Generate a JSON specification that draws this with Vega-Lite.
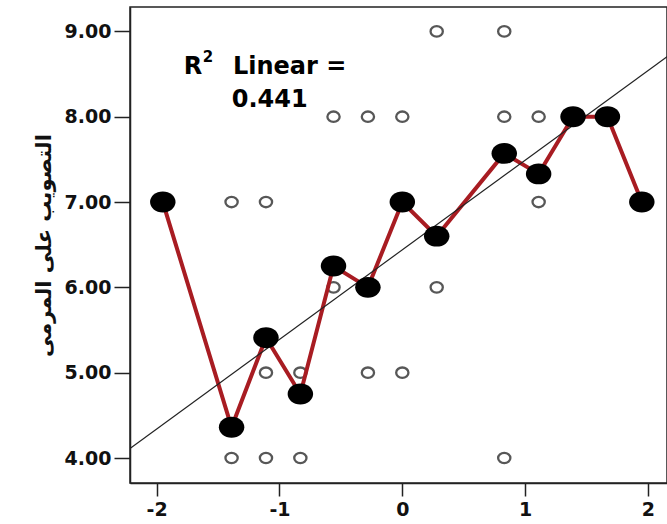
{
  "$schema": "https://vega.github.io/schema/vega-lite/v6.json",
  "width": 537,
  "height": 476,
  "autosize": {"type": "none"},
  "padding": {"left": 130, "top": 7, "right": 0, "bottom": 41},
  "background": "white",
  "config": {
    "view": {"stroke": "#222", "strokeWidth": 1.5},
    "axis": {
      "grid": false,
      "domainColor": "#222",
      "domainWidth": 1.5,
      "tickColor": "#222",
      "tickWidth": 1.5,
      "tickSize": 13,
      "labelFont": "DejaVu Sans",
      "labelFontWeight": "bold",
      "labelFontSize": 19,
      "labelColor": "#111",
      "titleFont": "DejaVu Sans",
      "titleFontWeight": "bold",
      "titleColor": "#111"
    }
  },
  "datasets": {
    "open": [
      {"x": -1.39, "y": 7}, {"x": -1.39, "y": 4},
      {"x": -1.11, "y": 7}, {"x": -1.11, "y": 5}, {"x": -1.11, "y": 4},
      {"x": -0.83, "y": 5}, {"x": -0.83, "y": 4},
      {"x": -0.56, "y": 8}, {"x": -0.56, "y": 6},
      {"x": -0.28, "y": 8}, {"x": -0.28, "y": 5},
      {"x": 0, "y": 8}, {"x": 0, "y": 5},
      {"x": 0.28, "y": 9}, {"x": 0.28, "y": 6},
      {"x": 0.83, "y": 9}, {"x": 0.83, "y": 8}, {"x": 0.83, "y": 4},
      {"x": 1.11, "y": 8}, {"x": 1.11, "y": 7}
    ],
    "means": [
      {"x": -1.95, "y": 7},
      {"x": -1.39, "y": 4.36},
      {"x": -1.11, "y": 5.41},
      {"x": -0.83, "y": 4.75},
      {"x": -0.56, "y": 6.25},
      {"x": -0.28, "y": 6.0},
      {"x": 0, "y": 7},
      {"x": 0.28, "y": 6.6},
      {"x": 0.83, "y": 7.57},
      {"x": 1.11, "y": 7.33},
      {"x": 1.39, "y": 8},
      {"x": 1.67, "y": 8},
      {"x": 1.95, "y": 7}
    ],
    "fit": [
      {"x": -2.4, "y": 3.92},
      {"x": 2.4, "y": 8.96}
    ],
    "notes": [
      {"label": "R", "x": -1.78, "y": 8.503},
      {"label": "Linear =", "x": -1.379, "y": 8.503}
    ],
    "sup": [
      {"label": "2", "x": -1.625, "y": 8.64}
    ],
    "r2": [
      {"label": "0.441", "x": -1.08, "y": 8.116}
    ]
  },
  "layer": [
    {
      "data": {"name": "open"},
      "mark": {"type": "point", "shape": "M-1,0A1,0.85,0,1,0,1,0A1,0.85,0,1,0,-1,0Z", "filled": false, "stroke": "#111", "strokeWidth": 2.3, "size": 150},
      "encoding": {
        "x": {"field": "x", "type": "quantitative", "scale": {"domain": [-2.217, 2.155], "nice": false, "zero": false},
          "axis": {"values": [-2, -1, 0, 1, 2], "title": null, "labelExpr": "datum.value + ''", "labelPadding": 4, "tickSize": 13}},
        "y": {"field": "y", "type": "quantitative", "scale": {"domain": [3.707, 9.286], "nice": false, "zero": false},
          "axis": {"values": [4, 5, 6, 7, 8, 9], "format": ".2f", "title": "التصويب على المرمى", "titleFontSize": 21, "titlePadding": 10, "labelPadding": 3, "tickSize": 16}}
      }
    },
    {
      "data": {"name": "means"},
      "mark": {"type": "line", "color": "#a81c22", "strokeWidth": 4},
      "encoding": {
        "x": {"field": "x", "type": "quantitative"},
        "y": {"field": "y", "type": "quantitative"}
      }
    },
    {
      "data": {"name": "fit"},
      "mark": {"type": "line", "color": "#222", "strokeWidth": 1.2, "clip": true},
      "encoding": {
        "x": {"field": "x", "type": "quantitative"},
        "y": {"field": "y", "type": "quantitative"}
      }
    },
    {
      "data": {"name": "means"},
      "mark": {"type": "point", "shape": "M-1,0A1,0.82,0,1,0,1,0A1,0.82,0,1,0,-1,0Z", "filled": true, "color": "black", "opacity": 1, "size": 650},
      "encoding": {
        "x": {"field": "x", "type": "quantitative"},
        "y": {"field": "y", "type": "quantitative"}
      }
    },
    {
      "data": {"name": "notes"},
      "mark": {"type": "text", "align": "left", "baseline": "alphabetic", "font": "DejaVu Sans", "fontWeight": "bold", "fontSize": 24, "color": "black"},
      "encoding": {
        "x": {"field": "x", "type": "quantitative"},
        "y": {"field": "y", "type": "quantitative"},
        "text": {"field": "label"}
      }
    },
    {
      "data": {"name": "sup"},
      "mark": {"type": "text", "align": "left", "baseline": "alphabetic", "font": "DejaVu Sans", "fontWeight": "bold", "fontSize": 15, "color": "black"},
      "encoding": {
        "x": {"field": "x", "type": "quantitative"},
        "y": {"field": "y", "type": "quantitative"},
        "text": {"field": "label"}
      }
    },
    {
      "data": {"name": "r2"},
      "mark": {"type": "text", "align": "center", "baseline": "alphabetic", "font": "DejaVu Sans", "fontWeight": "bold", "fontSize": 24, "color": "black"},
      "encoding": {
        "x": {"field": "x", "type": "quantitative"},
        "y": {"field": "y", "type": "quantitative"},
        "text": {"field": "label"}
      }
    }
  ]
}
